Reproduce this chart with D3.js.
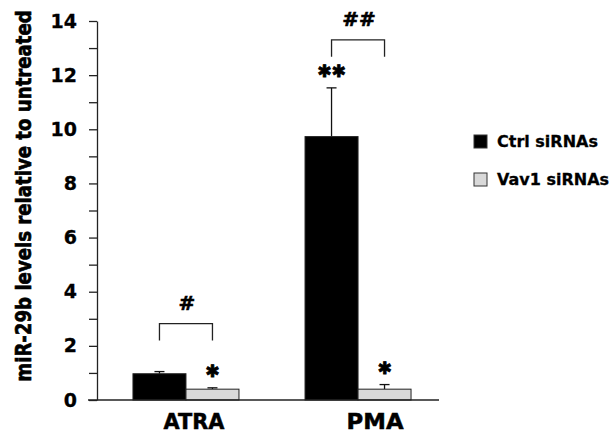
<!DOCTYPE html>
<html>
<head>
<meta charset="utf-8">
<script src="https://d3js.org/d3.v7.min.js"></script>
<style>
  body { margin: 0; background: #fff; }
  text { font-family: "DejaVu Sans", Verdana, sans-serif; font-weight: bold; fill: #000; }
  .axis path, .axis line { stroke: #222; stroke-width: 1.3; }
</style>
</head>
<body>
<div id="chart"></div>
<script>
// data
const categories = ["ATRA", "PMA"];
const series = ["Ctrl siRNAs", "Vav1 siRNAs"];
const ctrlValues = [0.97, 9.73];
const ctrlErrors = [0.08, 1.8];
const vav1Values = [0.40, 0.40];
const vav1Errors = [0.05, 0.17];
const starLabels = [["", "\u2731"], ["\u2731\u2731", "\u2731"]];
const bracketLabels = ["#", "##"];
const yTicks = d3.range(0, 15);

const colors = ["#000000", "#d9d9d9"];

const width = 612, height = 434;
const svg = d3.select("#chart").append("svg")
  .attr("width", width).attr("height", height);

const y = d3.scaleLinear().domain([0, 14]).range([400, 21]);
const x = d3.scaleBand().domain(categories).range([97, 447])
  .paddingInner(0.384).paddingOuter(0.209);
const xs = d3.scaleBand().domain(series).range([0, x.bandwidth()]);

// rows for bars
const rows = [];
categories.forEach((c, i) => {
  rows.push({ cat: c, s: series[0], v: ctrlValues[i], e: ctrlErrors[i], star: starLabels[i][0], col: colors[0] });
  rows.push({ cat: c, s: series[1], v: vav1Values[i], e: vav1Errors[i], star: starLabels[i][1], col: colors[1] });
});
const cx = d => x(d.cat) + xs(d.s) + xs.bandwidth() / 2;

// error bars (upper only)
svg.selectAll(".err").data(rows).enter().append("g").each(function(d) {
  const g = d3.select(this);
  g.append("line").attr("x1", cx(d)).attr("x2", cx(d))
    .attr("y1", y(d.v)).attr("y2", y(d.v + d.e))
    .attr("stroke", "#111").attr("stroke-width", 1.3);
  g.append("line").attr("x1", cx(d) - 5).attr("x2", cx(d) + 5)
    .attr("y1", y(d.v + d.e)).attr("y2", y(d.v + d.e))
    .attr("stroke", "#111").attr("stroke-width", 1.3);
});

// bars
svg.selectAll(".bar").data(rows).enter().append("rect")
  .attr("x", d => x(d.cat) + xs(d.s))
  .attr("y", d => y(d.v))
  .attr("width", xs.bandwidth())
  .attr("height", d => y(0) - y(d.v))
  .attr("fill", d => d.col)
  .attr("stroke", "#222").attr("stroke-width", 1);

// stars over bars
svg.selectAll(".star").data(rows.filter(d => d.star)).enter().append("text")
  .attr("x", cx)
  .attr("y", d => y(d.v + d.e) - 11)
  .attr("text-anchor", "middle")
  .attr("font-size", 17)
  .attr("stroke", "#000").attr("stroke-width", 0.8)
  .text(d => d.star);

// significance brackets
categories.forEach((c, i) => {
  const x1 = x(c) + xs.bandwidth() / 2;
  const x2 = x(c) + xs.bandwidth() * 1.5;
  const top = y(Math.max(ctrlValues[i] + ctrlErrors[i], vav1Values[i] + vav1Errors[i])) - 48;
  svg.append("path")
    .attr("d", `M${x1},${top + 17}V${top}H${x2}V${top + 17}`)
    .attr("fill", "none").attr("stroke", "#222").attr("stroke-width", 1.3);
  svg.append("text")
    .attr("x", (x1 + x2) / 2 + 1).attr("y", top - 14)
    .attr("text-anchor", "middle").attr("font-size", 20)
    .attr("stroke", "#000").attr("stroke-width", 0.6)
    .text(bracketLabels[i]);
});

// y axis
const yAxis = d3.axisLeft(y).tickValues(yTicks)
  .tickFormat(d => d % 2 === 0 ? d : "")
  .tickSize(8).tickPadding(12).tickSizeOuter(0);
svg.append("g").attr("class", "axis").attr("transform", "translate(97,0)")
  .call(yAxis)
  .call(g => g.selectAll("text").attr("font-size", 19)
    .attr("font-family", "DejaVu Sans").attr("font-weight", "bold")
    .attr("stroke", "#000").attr("stroke-width", 0.3));

// x baseline
svg.append("line").attr("x1", 88).attr("x2", 439)
  .attr("y1", y(0)).attr("y2", y(0))
  .attr("stroke", "#222").attr("stroke-width", 1.3);

// category labels
svg.selectAll(".cat").data(categories).enter().append("text")
  .attr("x", (d, i) => x(d) + x.bandwidth() / 2 + (i === 0 ? 8 : 17))
  .attr("y", 429)
  .attr("text-anchor", "middle")
  .attr("font-size", 22)
  .attr("stroke", "#000").attr("stroke-width", 0.5)
  .attr("textLength", (d, i) => i === 0 ? 61 : 57)
  .attr("lengthAdjust", "spacingAndGlyphs")
  .text(d => d);

// y title (squeezed along its length, as in the reference)
svg.append("text")
  .attr("transform", "translate(31,196) rotate(-90) scale(0.907,1.1)")
  .attr("text-anchor", "middle")
  .attr("font-size", 20)
  .attr("stroke", "#000").attr("stroke-width", 0.6)
  .text("miR-29b levels relative to untreated");

// legend
const legend = svg.selectAll(".leg").data(series).enter().append("g")
  .attr("transform", (d, i) => `translate(474,${135 + i * 38})`);
legend.append("rect").attr("width", 13).attr("height", 13)
  .attr("fill", (d, i) => colors[i]).attr("stroke", "#333").attr("stroke-width", 1);
legend.append("text").attr("x", 23).attr("y", 12)
  .attr("font-size", 16)
  .attr("stroke", "#000").attr("stroke-width", 0.3)
  .text(d => d);
</script>
</body>
</html>
